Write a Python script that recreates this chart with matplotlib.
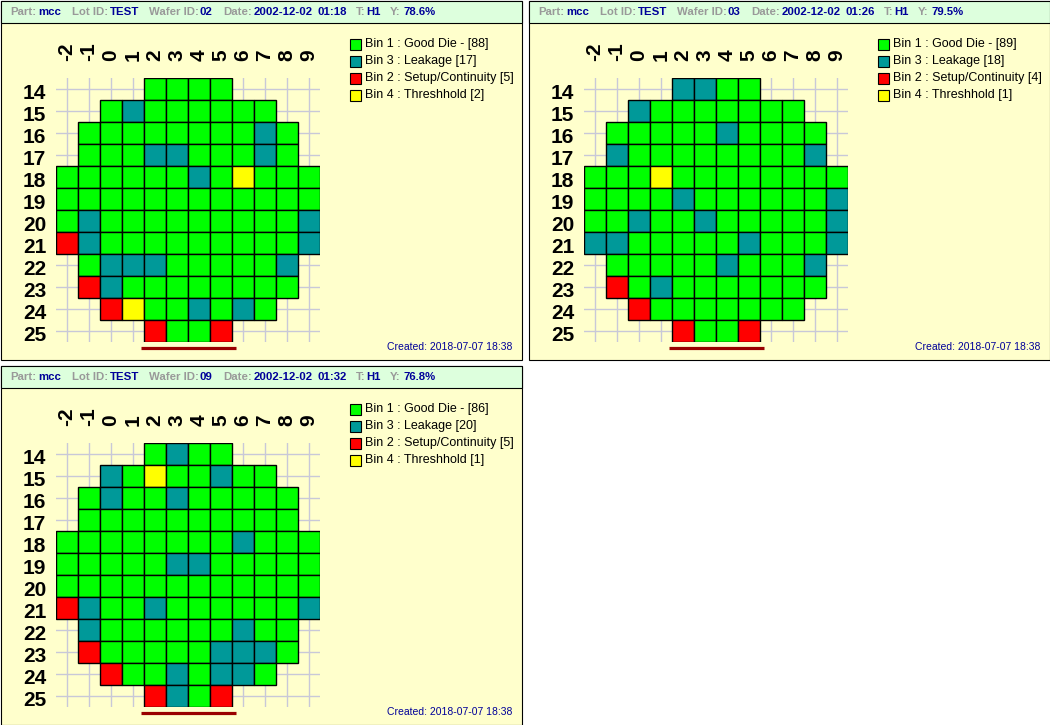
import matplotlib
matplotlib.use('Agg')
import matplotlib.pyplot as plt
from matplotlib.patches import Rectangle
from matplotlib.transforms import ScaledTranslation

plt.rcParams['font.family'] = ['Liberation Sans', 'DejaVu Sans']

# ---------------- data ----------------
x_cols = list(range(-2, 10))
y_rows = list(range(14, 26))

part_name = 'mcc'
lot_id = 'TEST'
test_name = 'H1'
wafer_date = '2002-12-02'
wafer_ids = ['02', '03', '09']
wafer_times = ['01:18', '01:26', '01:32']
created_text = 'Created: 2018-07-07 18:38'

# one string per row (y = 14..25), one char per column (x = -2..9); '.' = no die
map_02 = [
    "....1111....",
    "..13111111..",
    ".1111111131.",
    ".1113311131.",
    "111111314111",
    "111111111111",
    "131111111113",
    "231111111113",
    ".1333111113.",
    ".2311111111.",
    "..24113131..",
    "....2112....",
]
map_03 = [
    "....3311....",
    "..31111111..",
    ".1111131111.",
    ".3111111113.",
    "111411111111",
    "111131111113",
    "113113111113",
    "331111131113",
    ".1111131113.",
    ".2131111111.",
    "..21111111..",
    "....2112....",
]
map_09 = [
    "....1311....",
    "..31411311..",
    ".1311311111.",
    ".1111111111.",
    "111111113111",
    "111113311111",
    "111111111111",
    "231131111113",
    ".3111111311.",
    ".2111113331.",
    "..21131331..",
    "....2312....",
]
wafer_maps = [map_02, map_03, map_09]

bin_codes = ['1', '3', '2', '4']
bin_names = ['Bin 1 : Good Die - ', 'Bin 3 : Leakage ', 'Bin 2 : Setup/Continuity ', 'Bin 4 : Threshhold ']
bin_colors = ['#00FF00', '#009999', '#FF0000', '#FFFF00']
color_of = dict(zip(bin_codes, bin_colors))

# ---------------- figure ----------------
W, H = 1050, 725
fig = plt.figure(figsize=(W / 100, H / 100), dpi=100)
bg = fig.add_axes([0, 0, 1, 1])
bg.set_xlim(0, W)
bg.set_ylim(H, 0)
bg.axis('off')

origins = [(0, 0), (528, 0), (0, 365)]
PW, PH = 521, 359
HDR = 22
GRAY = '#999999'
BLUE = '#000099'

for k, (ox, oy) in enumerate(origins):
    wmap = wafer_maps[k]
    counts = {c: sum(row.count(c) for row in wmap) for c in bin_codes}
    total = sum(counts.values())
    yld = 100.0 * counts['1'] / total

    # panel frame
    bg.add_patch(Rectangle((ox + 0.5, oy + 0.5), PW, PH, facecolor='#FFFFCC',
                           edgecolor='black', lw=0.8))
    bg.add_patch(Rectangle((ox + 0.5, oy + 0.5), PW, HDR, facecolor='#DDFFDD',
                           edgecolor='black', lw=0.8))

    # header
    pieces = [
        ('Part:', GRAY, 10.5), (part_name, BLUE, 38),
        ('Lot ID:', GRAY, 72), (lot_id, BLUE, 110),
        ('Wafer ID:', GRAY, 149), (wafer_ids[k], BLUE, 200),
        ('Date:', GRAY, 223), (wafer_date, BLUE, 254), (wafer_times[k], BLUE, 317),
        ('T:', GRAY, 356), (test_name, BLUE, 366),
        ('Y:', GRAY, 390), (f'{yld:.1f}%', BLUE, 403),
    ]
    for txt, col, px in pieces:
        bg.text(ox + px, oy + 11.5, txt, color=col, fontsize=8.2, fontweight='bold',
                ha='left', va='center')

    # legend
    for i, code in enumerate(bin_codes):
        bg.add_patch(Rectangle((ox + 350, oy + 38.5 + 17 * i), 11, 11,
                               facecolor=bin_colors[i], edgecolor='black', lw=0.8))
        bg.text(ox + 365, oy + 44 + 17 * i, f'{bin_names[i]}[{counts[code]}]',
                fontsize=9, ha='left', va='center', color='black')

    # created
    bg.text(ox + 512, oy + 347, created_text, fontsize=7.5, color=BLUE,
            ha='right', va='center')

    # wafer map axes
    ax = fig.add_axes([(ox + 56) / W, 1 - (oy + 342) / H, 264 / W, 264 / H])
    ax.patch.set_visible(False)
    ax.set_xlim(-2.5, 9.5)
    ax.set_ylim(25.5, 13.5)
    for sp in ax.spines.values():
        sp.set_visible(False)
    ax.set_axisbelow(True)
    ax.grid(True, color='#C8C8D8', lw=1.0)

    for r, row in enumerate(wmap):
        yv = y_rows[r]
        for c, ch in enumerate(row):
            if ch == '.':
                continue
            ax.bar(x_cols[c], 1, bottom=yv - 0.5, width=1, color=color_of[ch],
                   edgecolor='black', linewidth=1.0, zorder=2)

    ax.xaxis.tick_top()
    ax.set_xticks(x_cols)
    ax.set_xticklabels([str(v) for v in x_cols], rotation=90, fontsize=15,
                       fontweight='bold')
    ax.set_yticks(y_rows)
    ax.set_yticklabels([str(v) for v in y_rows], fontsize=15, fontweight='bold')
    ax.tick_params(axis='x', length=0, pad=12)
    ax.tick_params(axis='y', length=0, pad=7)
    shift = ScaledTranslation(0, -2.5 / 100, fig.dpi_scale_trans)
    for lab in ax.get_yticklabels():
        lab.set_transform(lab.get_transform() + shift)

    # flat indicator
    ax.plot([1.36, 5.68], [25.77, 25.77], color='#990000', lw=2.3,
            solid_capstyle='butt', clip_on=False, zorder=3)

fig.savefig('out.png', dpi=100)
